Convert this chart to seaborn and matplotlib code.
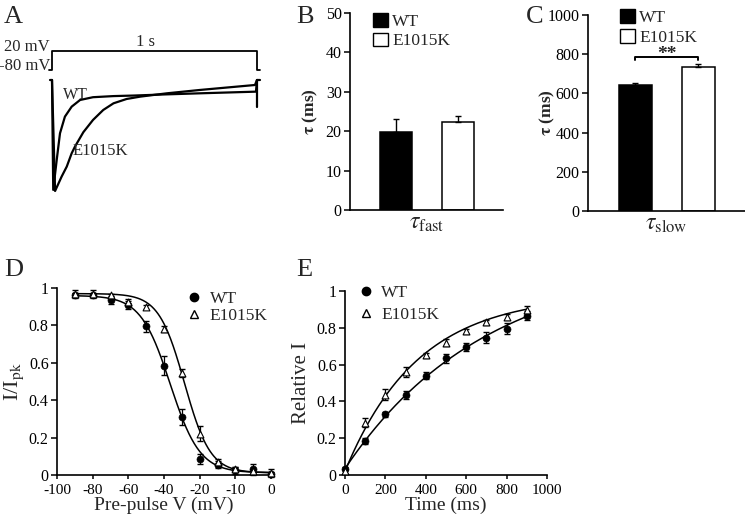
import matplotlib
matplotlib.use("Agg")
import matplotlib.pyplot as plt
from matplotlib.patches import Patch
from matplotlib.lines import Line2D
import numpy as np
import pandas as pd
import seaborn as sns

W, H = 745, 519

# --- A: normalised current traces (time in s) ---
wt_trace_t = [0.0, 0.006, 0.023, 0.039, 0.063, 0.096, 0.137, 0.2, 0.3, 0.4, 0.55, 0.72, 0.995, 1.0]
wt_trace_i = [0.0, -0.99, -0.72, -0.48, -0.33, -0.24, -0.18, -0.155, -0.145, -0.14, -0.13, -0.12, -0.105, 0.0]
mut_trace_t = [0.0, 0.015, 0.047, 0.072, 0.096, 0.112, 0.153, 0.2, 0.25, 0.3, 0.364, 0.43, 0.56, 0.72, 0.99, 1.0]
mut_trace_i = [0.0, -1.0, -0.87, -0.78, -0.66, -0.60, -0.47, -0.36, -0.27, -0.21, -0.171, -0.15, -0.12, -0.09, -0.045, 0.0]
stub_t = [-0.008, 0.0]
stub_i = [0.0, 0.0]
tail_t = [1.0, 1.0, 1.015]
tail_i = [-0.24, 0.0, 0.0]
protocol_t = [-0.015, 0.0, 0.0, 1.0, 1.0, 1.015]
protocol_v = [-80, -80, 20, 20, -80, -80]

# --- B / C: time constants ---
genotypes = ["WT", "E1015K"]
tau_fast = [19.7, 22.3]
tau_fast_err = [3.5, 1.5]
tau_slow = [643, 733]
tau_slow_err = [10, 18]

# --- D: steady-state inactivation ---
prepulse_v = [-90, -80, -70, -60, -50, -40, -30, -20, -10, 0, 10, 20]
d_xticks = [-100, -80, -60, -40, -20, 0, 20]
d_xtick_labels = ["-100", "-80", "-60", "-40", "-20", "-10", "0"]  # as printed in the figure
wt_inact = [0.96, 0.96, 0.935, 0.91, 0.795, 0.585, 0.31, 0.085, 0.055, 0.025, 0.03, 0.005]
wt_inact_err = [0.015, 0.015, 0.02, 0.02, 0.03, 0.05, 0.045, 0.025, 0.02, 0.02, 0.03, 0.01]
mut_inact = [0.97, 0.97, 0.96, 0.925, 0.90, 0.78, 0.545, 0.22, 0.07, 0.03, 0.02, 0.01]
mut_inact_err = [0.02, 0.02, 0.01, 0.015, 0.01, 0.015, 0.02, 0.04, 0.015, 0.015, 0.01, 0.02]
# Boltzmann fit parameters (top, bottom, V1/2, k)
wt_boltz = (0.96, 0.012, -36.5, 8.3)
mut_boltz = (0.97, 0.012, -28.5, 7.2)

# --- E: recovery from inactivation ---
recovery_t = [0, 100, 200, 300, 400, 500, 600, 700, 800, 900]
wt_recov = [0.035, 0.185, 0.33, 0.435, 0.54, 0.635, 0.695, 0.745, 0.795, 0.865]
wt_recov_err = [0.01, 0.015, 0.015, 0.02, 0.02, 0.025, 0.02, 0.03, 0.03, 0.025]
mut_recov = [0.02, 0.285, 0.435, 0.56, 0.65, 0.72, 0.78, 0.83, 0.86, 0.895]
mut_recov_err = [0.01, 0.025, 0.03, 0.025, 0.015, 0.02, 0.015, 0.015, 0.015, 0.025]
# single exponential fit parameters (y0, amplitude, tau in ms)
wt_exp = (0.035, 1.14, 697)
mut_exp = (0.02, 0.96, 360)

sns.set_theme(style="ticks")
plt.rcParams["font.family"] = ["Liberation Serif", "DejaVu Serif"]
plt.rcParams["mathtext.fontset"] = "stix"
plt.rcParams["axes.edgecolor"] = "black"
plt.rcParams["axes.linewidth"] = 1.2
plt.rcParams["xtick.color"] = "black"
plt.rcParams["ytick.color"] = "black"

fig = plt.figure(figsize=(W / 100, H / 100), dpi=100)


def px_axes(left, top, width, height):
    return fig.add_axes([left / W, 1 - (top + height) / H, width / W, height / H])


def ptext(x, y, s, **kw):
    fig.text(x / W, 1 - y / H, s, **kw)


def style_axes(ax):
    sns.despine(ax=ax)
    ax.tick_params(direction="out", length=4, width=1.1, labelsize=11.5, pad=2,
                   colors="black")


# ---------- A ----------
axv = px_axes(52, 51, 205, 19)
sns.lineplot(x=protocol_t, y=protocol_v, sort=False, estimator=None,
             color="black", lw=1.3, ax=axv)
axv.set_xlim(0, 1)
axv.set_ylim(-80, 20)
axv.axis("off")
for ln in axv.lines:
    ln.set_clip_on(False)

axa = px_axes(52, 78, 205, 115)
for tt, ii in [(wt_trace_t, wt_trace_i), (mut_trace_t, mut_trace_i),
               (stub_t, stub_i), (tail_t, tail_i)]:
    sns.lineplot(x=tt, y=ii, sort=False, estimator=None, color="black",
                 lw=1.6, ax=axa)
axa.set_xlim(0, 1)
axa.set_ylim(-1.018, 0.018)
axa.axis("off")
for ln in axa.lines:
    ln.set_clip_on(False)

ptext(50, 47, "20 mV", ha="right", va="center", fontsize=12)
ptext(50, 66, "-80 mV", ha="right", va="center", fontsize=12)
ptext(146, 42, "1 s", ha="center", va="center", fontsize=12)
ptext(63, 95, "WT", ha="left", va="center", fontsize=11.5)
ptext(73, 151, "E1015K", ha="left", va="center", fontsize=12)

# ---------- B and C ----------
bar_colors = {"WT": "black", "E1015K": "white"}


def bar_panel(ax, values, errs, ymax, yticks, xlabel, leg_x, leg_y, ylabelpad):
    df = pd.DataFrame({"genotype": genotypes, "tau": values})
    sns.barplot(data=df, x="genotype", y="tau", hue="genotype", palette=bar_colors,
                edgecolor="black", linewidth=1.1, width=0.52, legend=False, ax=ax)
    ax.errorbar([0, 1], values, yerr=[[0, 0], errs], fmt="none", ecolor="black",
                elinewidth=1.0, capsize=2.5, capthick=1.0, zorder=1)
    ax.set_xlim(-0.75, 1.74)
    ax.set_ylim(0, ymax)
    ax.set_yticks(yticks)
    ax.set_xticks([])
    ax.set_xlabel(xlabel, fontsize=17, labelpad=2)
    ax.set_ylabel(r"$\mathbf{\tau}$ (ms)", fontsize=12.5, fontweight="bold",
                  labelpad=ylabelpad)
    style_axes(ax)
    handles = [Patch(facecolor="black", edgecolor="black", label="WT"),
               Patch(facecolor="white", edgecolor="black", label="E1015K")]
    ax.legend(handles=handles, loc="upper left", bbox_to_anchor=(leg_x, leg_y),
              frameon=False, fontsize=12.5, handlelength=0.85, handleheight=0.85,
              handletextpad=0.25, labelspacing=0.15, borderpad=0, borderaxespad=0)


axb = px_axes(350, 13, 153, 197)
bar_panel(axb, tau_fast, tau_fast_err, 50, [0, 10, 20, 30, 40, 50],
          r"$\tau_{\mathrm{fast}}$", 0.15, 1.0, 4)

axc = px_axes(588, 15, 157, 196)
bar_panel(axc, tau_slow, tau_slow_err, 1000, [0, 200, 400, 600, 800, 1000],
          r"$\tau_{\mathrm{slow}}$", 0.204, 1.03, -7)
# significance bracket
axc.plot([0, 0, 1, 1], [770, 786, 786, 770], color="black", lw=1.4)
axc.text(0.5, 778, "**", ha="center", va="baseline", fontsize=14, fontweight="bold")


def style_xy(ax):
    style_axes(ax)
    ax.tick_params(axis="x", length=3, pad=3.6, labelsize=11)


# ---------- D ----------
axd = px_axes(57, 288, 214, 187)
vfit = np.linspace(prepulse_v[0], prepulse_v[-1], 300)
for (top, bot, vh, k) in [wt_boltz, mut_boltz]:
    sns.lineplot(x=vfit, y=bot + (top - bot) / (1 + np.exp((vfit - vh) / k)),
                 color="black", lw=1.1, ax=axd)
axd.errorbar(prepulse_v, wt_inact, yerr=wt_inact_err, fmt="none", ecolor="black",
             elinewidth=0.9, capsize=2, clip_on=False)
axd.errorbar(prepulse_v, mut_inact, yerr=mut_inact_err, fmt="none", ecolor="black",
             elinewidth=0.9, capsize=2, clip_on=False)
sns.scatterplot(x=prepulse_v, y=wt_inact, marker="o", s=26, color="black",
                edgecolor="black", ax=axd, zorder=4, clip_on=False)
sns.scatterplot(x=prepulse_v, y=mut_inact, marker="^", s=24, color="white",
                edgecolor="black", linewidth=0.8, ax=axd, zorder=5, clip_on=False)
axd.set_xlim(-100, 20)
axd.set_ylim(0, 1)
axd.set_xticks(d_xticks)
axd.set_xticklabels(d_xtick_labels)
axd.set_yticks([0, 0.2, 0.4, 0.6, 0.8, 1.0])
axd.set_yticklabels(["0", "0.2", "0.4", "0.6", "0.8", "1"])
axd.set_xlabel("Pre-pulse V (mV)", fontsize=14, labelpad=-0.5)
axd.set_ylabel(r"I/I$_{\mathrm{pk}}$", fontsize=16, labelpad=2)
style_xy(axd)
leg_handles = [Line2D([], [], marker="o", ls="none", color="black", markersize=6, label="WT"),
               Line2D([], [], marker="^", ls="none", markerfacecolor="white",
                      markeredgecolor="black", markersize=6, label="E1015K")]
axd.legend(handles=leg_handles, loc="upper left", bbox_to_anchor=(0.6, 0.985),
           frameon=False, fontsize=12.5, handlelength=1.0, handletextpad=0.4,
           labelspacing=0.08, borderpad=0, borderaxespad=0)

# ---------- E ----------
axe = px_axes(345, 291, 202, 184)
tfit = np.linspace(recovery_t[0], recovery_t[-1], 300)
for (y0, amp, tau) in [wt_exp, mut_exp]:
    sns.lineplot(x=tfit, y=y0 + amp * (1 - np.exp(-tfit / tau)), color="black",
                 lw=1.1, ax=axe)
axe.errorbar(recovery_t, wt_recov, yerr=wt_recov_err, fmt="none", ecolor="black",
             elinewidth=0.9, capsize=2, clip_on=False)
axe.errorbar(recovery_t, mut_recov, yerr=mut_recov_err, fmt="none", ecolor="black",
             elinewidth=0.9, capsize=2, clip_on=False)
sns.scatterplot(x=recovery_t, y=wt_recov, marker="o", s=26, color="black",
                edgecolor="black", ax=axe, zorder=4, clip_on=False)
sns.scatterplot(x=recovery_t, y=mut_recov, marker="^", s=24, color="white",
                edgecolor="black", linewidth=0.8, ax=axe, zorder=5, clip_on=False)
axe.set_xlim(0, 1000)
axe.set_ylim(0, 1)
axe.set_xticks([0, 200, 400, 600, 800, 1000])
axe.set_yticks([0, 0.2, 0.4, 0.6, 0.8, 1.0])
axe.set_yticklabels(["0", "0.2", "0.4", "0.6", "0.8", "1"])
axe.set_xlabel("Time (ms)", fontsize=14, labelpad=-0.5)
axe.set_ylabel("Relative I", fontsize=15, labelpad=4)
style_xy(axe)
axe.legend(handles=leg_handles, loc="upper left", bbox_to_anchor=(0.06, 1.035),
           frameon=False, fontsize=12.5, handlelength=1.0, handletextpad=0.4,
           labelspacing=0.35, borderpad=0, borderaxespad=0)

# panel letters
for x, y, s in [(4, 17, "A"), (296, 17, "B"), (526, 17, "C"), (4, 270, "D"), (296, 270, "E")]:
    ptext(x, y, s, ha="left", va="center", fontsize=19)

fig.savefig("out.png", dpi=100)
